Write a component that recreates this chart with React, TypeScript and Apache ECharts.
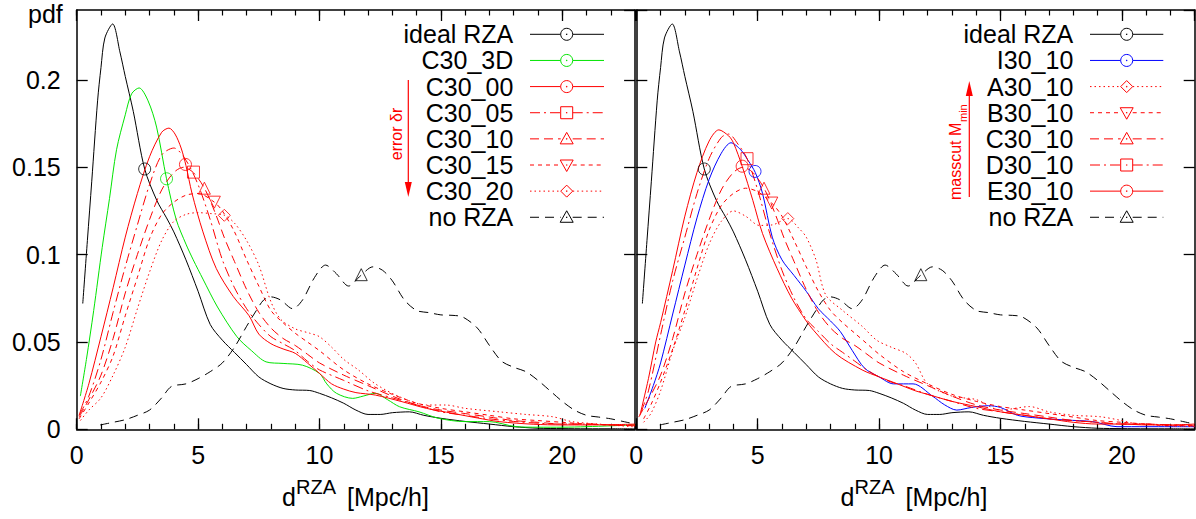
import React, { useEffect, useRef } from "react";
import * as echarts from "echarts";

type P = [number, number];

// ---------- data (x = d^RZA [Mpc/h], y = pdf) ----------
const idealRZA: P[] = [[0.25,0.072],[0.44,0.108],[0.62,0.142],[0.86,0.188],[1.0,0.207],[1.16,0.224],[1.48,0.232],[1.78,0.216],[2.0,0.202],[2.33,0.182],[2.8,0.149],[3.3,0.131],[3.7,0.121],[4.0,0.113],[4.5,0.097],[5.0,0.079],[5.5,0.060],[6.0,0.051],[6.5,0.044],[7.0,0.037],[7.5,0.030],[8.0,0.026],[8.5,0.0234],[9.0,0.0225],[9.6,0.0222],[10.0,0.0206],[10.5,0.018],[11.0,0.0149],[11.5,0.011],[12.0,0.0085],[12.5,0.0085],[13.0,0.0095],[13.7,0.010],[14.3,0.008],[15.0,0.0063],[16.0,0.0045],[17.0,0.003],[18.0,0.0015],[19.0,0.0006],[20.0,0.0004],[21.0,0.0003],[22.0,0.0003],[23.0,0.0002]];
const noRZA: P[] = [[0.97,0.0025],[1.5,0.004],[2.0,0.0055],[2.5,0.008],[3.0,0.011],[3.5,0.018],[3.9,0.0245],[4.5,0.026],[5.0,0.029],[5.5,0.033],[6.0,0.038],[6.5,0.047],[7.0,0.059],[7.4,0.068],[7.7,0.074],[8.0,0.0758],[8.4,0.074],[8.9,0.069],[9.3,0.074],[9.8,0.087],[10.25,0.094],[10.7,0.089],[11.2,0.082],[11.7,0.088],[12.2,0.093],[12.6,0.091],[13.0,0.085],[13.5,0.074],[14.0,0.068],[14.5,0.0668],[15.0,0.0655],[15.5,0.0652],[15.9,0.0643],[16.5,0.058],[17.0,0.048],[17.5,0.039],[18.0,0.0355],[18.5,0.033],[19.0,0.028],[19.5,0.022],[20.0,0.016],[20.5,0.011],[21.0,0.008],[21.5,0.007],[22.0,0.006],[22.5,0.0045],[23.0,0.003]];
const c30_3D: P[] = [[0.15,0.019],[0.4,0.040],[0.7,0.068],[1.05,0.104],[1.35,0.132],[1.64,0.160],[2.0,0.180],[2.26,0.192],[2.57,0.1954],[2.94,0.188],[3.29,0.173],[3.7,0.1434],[4.1,0.120],[4.5,0.106],[4.8,0.097],[5.2,0.086],[5.8,0.070],[6.6,0.053],[7.2,0.045],[7.8,0.0386],[8.5,0.0377],[9.3,0.0367],[10.0,0.032],[10.3,0.026],[10.7,0.0206],[11.37,0.0177],[11.8,0.019],[12.3,0.0206],[12.8,0.017],[13.3,0.0129],[14.1,0.010],[14.9,0.0063],[16.0,0.0044],[17.0,0.0044],[18.1,0.0015],[19.0,0.0012],[20.0,0.0012],[21.0,0.0015],[22.0,0.002],[23.0,0.0025]];
const c30_00: P[] = [[0.1,0.008],[0.5,0.026],[1.0,0.053],[1.5,0.081],[2.0,0.110],[2.5,0.135],[3.0,0.156],[3.5,0.170],[3.8,0.1724],[4.05,0.169],[4.3,0.161],[4.5,0.151],[4.75,0.135],[5.2,0.113],[5.75,0.092],[6.45,0.076],[7.1,0.065],[7.5,0.0545],[8.0,0.049],[8.5,0.046],[9.0,0.0435],[9.5,0.038],[10.0,0.032],[10.5,0.026],[11.0,0.023],[11.5,0.021],[12.3,0.0196],[13.4,0.0158],[14.4,0.012],[15.5,0.0091],[16.5,0.0065],[17.4,0.0044],[18.8,0.0029],[20.0,0.0025],[21.0,0.0025],[22.0,0.0026],[23.0,0.003]];
const c30_05: P[] = [[0.1,0.008],[0.5,0.019],[1.0,0.040],[1.5,0.067],[2.0,0.093],[2.5,0.117],[3.0,0.140],[3.5,0.157],[4.0,0.161],[4.5,0.154],[5.0,0.140],[5.5,0.120],[6.0,0.097],[6.5,0.081],[7.0,0.069],[7.5,0.060],[8.0,0.053],[8.5,0.049],[9.0,0.045],[9.5,0.039],[10.0,0.034],[11.0,0.028],[12.0,0.022],[13.0,0.018],[14.0,0.014],[15.0,0.010],[16.0,0.008],[17.0,0.006],[18.0,0.0045],[19.0,0.0035],[20.0,0.003],[21.0,0.003],[22.0,0.0025],[23.0,0.0025]];
const c30_10: P[] = [[0.1,0.007],[0.5,0.017],[1.0,0.031],[1.5,0.052],[2.0,0.078],[2.5,0.100],[3.0,0.120],[3.5,0.137],[4.0,0.147],[4.4,0.150],[4.8,0.147],[5.26,0.138],[5.7,0.124],[6.1,0.109],[6.5,0.096],[7.0,0.080],[7.5,0.067],[8.0,0.058],[8.5,0.052],[9.0,0.048],[9.5,0.043],[10.0,0.038],[11.0,0.031],[12.0,0.025],[13.0,0.019],[14.0,0.014],[15.0,0.011],[16.0,0.009],[17.0,0.007],[18.0,0.005],[19.0,0.004],[20.0,0.003],[21.0,0.003],[22.0,0.0025],[23.0,0.002]];
const c30_15: P[] = [[0.1,0.006],[0.5,0.015],[1.0,0.027],[1.5,0.042],[2.0,0.065],[2.5,0.087],[3.0,0.109],[3.5,0.123],[4.0,0.130],[4.5,0.134],[5.0,0.135],[5.67,0.130],[6.0,0.125],[6.5,0.113],[7.0,0.097],[7.5,0.082],[8.0,0.068],[8.5,0.061],[9.0,0.055],[9.5,0.050],[10.0,0.045],[11.0,0.034],[12.0,0.026],[13.0,0.020],[14.0,0.015],[15.0,0.012],[16.0,0.010],[17.0,0.008],[18.0,0.006],[19.0,0.005],[20.0,0.004],[21.0,0.003],[22.0,0.0025],[23.0,0.002]];
const c30_20: P[] = [[0.15,0.005],[0.5,0.011],[1.0,0.018],[1.5,0.031],[2.0,0.047],[2.5,0.069],[3.0,0.090],[3.5,0.108],[4.0,0.119],[4.5,0.123],[5.0,0.124],[5.5,0.1235],[6.08,0.1225],[6.5,0.118],[7.0,0.108],[7.5,0.094],[8.0,0.073],[8.4,0.063],[9.0,0.0575],[9.6,0.055],[10.0,0.053],[10.5,0.047],[11.0,0.040],[11.6,0.034],[12.3,0.026],[13.3,0.0186],[14.4,0.0139],[15.2,0.0139],[16.0,0.012],[17.4,0.010],[18.5,0.0085],[19.6,0.0072],[20.4,0.0044],[21.5,0.003],[22.9,0.0015]];
const i30_10: P[] = [[0.35,0.012],[0.7,0.025],[1.0,0.038],[1.5,0.066],[2.0,0.094],[2.5,0.121],[3.0,0.143],[3.5,0.158],[3.9,0.164],[4.3,0.160],[4.6,0.154],[4.9,0.147],[5.2,0.135],[5.6,0.110],[6.0,0.097],[6.5,0.088],[7.0,0.079],[7.5,0.069],[8.0,0.062],[8.4,0.056],[8.9,0.045],[9.4,0.035],[10.0,0.030],[10.6,0.026],[11.4,0.026],[12.2,0.019],[12.7,0.014],[13.2,0.011],[13.8,0.0125],[14.5,0.0135],[15.0,0.0125],[15.7,0.008],[16.5,0.0065],[17.7,0.0053],[18.8,0.0044],[19.8,0.0015],[21.0,0.0015],[22.0,0.0015],[23.0,0.0015]];
const a30_10: P[] = [[0.3,0.004],[0.6,0.009],[1.0,0.022],[1.5,0.045],[2.0,0.064],[2.5,0.086],[3.0,0.106],[3.5,0.119],[4.0,0.125],[4.5,0.122],[5.07,0.1167],[5.6,0.117],[6.24,0.1206],[6.7,0.115],[7.0,0.110],[7.4,0.097],[7.8,0.077],[8.5,0.068],[9.3,0.059],[9.9,0.051],[10.5,0.047],[11.1,0.0435],[11.5,0.038],[12.0,0.026],[13.0,0.019],[14.0,0.017],[15.0,0.011],[16.2,0.013],[17.0,0.010],[18.0,0.008],[19.1,0.0072],[20.0,0.005],[20.5,0.0034],[21.5,0.0025],[23.0,0.0015]];
const b30_10: P[] = [[0.3,0.006],[0.6,0.014],[1.0,0.027],[1.5,0.046],[2.0,0.068],[2.5,0.092],[3.0,0.114],[3.5,0.128],[4.0,0.135],[4.5,0.138],[5.0,0.136],[5.58,0.1295],[6.0,0.122],[6.5,0.108],[7.0,0.093],[7.5,0.079],[8.0,0.068],[8.5,0.061],[9.0,0.055],[9.5,0.049],[10.0,0.043],[11.0,0.033],[12.0,0.026],[13.0,0.020],[14.0,0.016],[15.0,0.013],[16.0,0.011],[17.0,0.009],[18.0,0.007],[19.0,0.005],[20.0,0.004],[21.0,0.003],[22.0,0.002],[23.0,0.002]];
const d30_10: P[] = [[0.2,0.010],[0.5,0.022],[1.0,0.054],[1.5,0.085],[2.0,0.110],[2.5,0.135],[3.0,0.155],[3.5,0.167],[3.8,0.169],[4.2,0.163],[4.56,0.155],[5.0,0.137],[5.5,0.112],[6.0,0.091],[6.5,0.075],[7.0,0.063],[7.5,0.056],[8.0,0.049],[8.5,0.044],[9.0,0.039],[9.5,0.034],[10.0,0.030],[10.5,0.027],[11.0,0.025],[12.0,0.020],[13.0,0.016],[14.0,0.012],[15.0,0.010],[16.0,0.008],[17.0,0.006],[18.0,0.005],[19.0,0.004],[20.0,0.003],[21.0,0.003],[22.0,0.0025],[23.0,0.0025]];
const e30_10: P[] = [[0.15,0.008],[0.5,0.029],[0.8,0.050],[1.0,0.061],[1.5,0.091],[2.0,0.122],[2.5,0.147],[3.0,0.165],[3.4,0.1714],[3.8,0.168],[4.0,0.164],[4.36,0.1506],[4.8,0.131],[5.2,0.112],[5.8,0.092],[6.4,0.075],[7.0,0.062],[7.3,0.0567],[8.2,0.0434],[9.3,0.034],[10.0,0.030],[10.7,0.0263],[11.5,0.022],[12.0,0.020],[13.0,0.016],[14.0,0.013],[15.0,0.010],[16.0,0.008],[17.0,0.006],[18.0,0.004],[19.0,0.003],[20.0,0.003],[21.0,0.0025],[22.0,0.0025],[23.0,0.003]];

// one point symbol per curve
const markPoints: Record<string, P> = {
  "ideal RZA": [2.8, 0.149],
  "no RZA": [11.72, 0.0885],
  "C30_3D": [3.7, 0.1434],
  "C30_00": [4.48, 0.1516],
  "C30_05": [4.81, 0.1472],
  "C30_10": [5.26, 0.138],
  "C30_15": [5.67, 0.130],
  "C30_20": [6.08, 0.1225],
  "I30_10": [4.89, 0.1476],
  "A30_10": [6.24, 0.1206],
  "B30_10": [5.58, 0.1295],
  "D30_10": [4.56, 0.1549],
  "E30_10": [4.36, 0.1506],
};

const leftNames = ["ideal RZA", "C30_3D", "C30_00", "C30_05", "C30_10", "C30_15", "C30_20", "no RZA"];
const rightNames = ["ideal RZA", "I30_10", "A30_10", "B30_10", "C30_10", "D30_10", "E30_10", "no RZA"];
const curveData: Record<string, P[]> = {
  "ideal RZA": idealRZA, "no RZA": noRZA, "C30_3D": c30_3D, "C30_00": c30_00, "C30_05": c30_05,
  "C30_10": c30_10, "C30_15": c30_15, "C30_20": c30_20, "I30_10": i30_10, "A30_10": a30_10,
  "B30_10": b30_10, "D30_10": d30_10, "E30_10": e30_10,
};

// ---------- styles ----------
const FONT = "'Liberation Sans', Arial, Helvetica, sans-serif";
const RED = "#ff0000";
const GREEN = "#00e400";
const BLUE = "#0000ff";
const BLACK = "#000000";
const DASHDOT = [10, 4, 2, 4];
const DASHED = [9, 5];
const SHORT = [4, 4];
const DOTTED = [1.5, 3];
const LONG = [9, 6];
type Sym = "circle" | "rect" | "triangle" | "invTriangle" | "diamond";
const STYLE: Record<string, { color: string; dash: number[] | null; symbol: Sym }> = {
  "ideal RZA": { color: BLACK, dash: null, symbol: "circle" },
  "no RZA": { color: BLACK, dash: LONG, symbol: "triangle" },
  "C30_3D": { color: GREEN, dash: null, symbol: "circle" },
  "C30_00": { color: RED, dash: null, symbol: "circle" },
  "C30_05": { color: RED, dash: DASHDOT, symbol: "rect" },
  "C30_10": { color: RED, dash: DASHED, symbol: "triangle" },
  "C30_15": { color: RED, dash: SHORT, symbol: "invTriangle" },
  "C30_20": { color: RED, dash: DOTTED, symbol: "diamond" },
  "I30_10": { color: BLUE, dash: null, symbol: "circle" },
  "A30_10": { color: RED, dash: DOTTED, symbol: "diamond" },
  "B30_10": { color: RED, dash: SHORT, symbol: "invTriangle" },
  "D30_10": { color: RED, dash: DASHDOT, symbol: "rect" },
  "E30_10": { color: RED, dash: null, symbol: "circle" },
};

const GRID_TOP = 10;
const GRID_H = 419.3;
const GRID_W = 558.4;
const GRID_LEFT = [76.7, 636.3];
const AXIS_COLOR = "#000";

function buildAxes() {
  const xAxis: any[] = [];
  const yAxis: any[] = [];
  [0, 1].forEach((gi) => {
    const base = { gridIndex: gi, type: "value", min: 0, max: 23, splitLine: { show: false } };
    const lineOn = { show: true, onZero: false, lineStyle: { color: AXIS_COLOR, width: 1.5 } };
    const lineOff = { show: false, onZero: false };
    const major = { show: true, inside: true, length: 11, lineStyle: { color: AXIS_COLOR, width: 1.3 } };
    const minor = { show: true, inside: true, length: 5.5, lineStyle: { color: AXIS_COLOR, width: 1.2 } };
    xAxis.push({ ...base, position: "bottom", interval: 5, axisLine: lineOn, axisTick: major,
      axisLabel: { show: true, fontSize: 25, color: "#000", fontFamily: FONT, margin: 13, showMaxLabel: false } });
    xAxis.push({ ...base, position: "bottom", interval: 1, axisLine: lineOff, axisTick: minor, axisLabel: { show: false } });
    xAxis.push({ ...base, position: "top", interval: 5, axisLine: lineOn, axisTick: major, axisLabel: { show: false } });
    xAxis.push({ ...base, position: "top", interval: 1, axisLine: lineOff, axisTick: minor, axisLabel: { show: false } });
    const ybase = { gridIndex: gi, type: "value", min: 0, max: 0.24, interval: 0.05, splitLine: { show: false } };
    yAxis.push({ ...ybase, position: "left", axisLine: lineOn, axisTick: major,
      axisLabel: { show: gi === 0, fontSize: 25, color: "#000", fontFamily: FONT, margin: 16, showMaxLabel: false,
        formatter: (v: number) => String(+v.toFixed(2)) } });
    yAxis.push({ ...ybase, position: "right", axisLine: lineOn, axisTick: major, axisLabel: { show: false } });
  });
  return { xAxis, yAxis };
}

function buildSeries(names: string[], panel: number) {
  const xi = panel * 4;
  const yi = panel * 2;
  const out: any[] = [];
  names.forEach((n) => {
    const st = STYLE[n];
    out.push({
      type: "line", name: `${n}-${panel}`, xAxisIndex: xi, yAxisIndex: yi, data: curveData[n],
      showSymbol: false, symbol: "none", smooth: 0.3, silent: true, z: 3,
      lineStyle: { color: st.color, width: 1, type: st.dash ? st.dash : "solid" },
    });
    out.push({
      type: "scatter", name: `${n}-mark-${panel}`, xAxisIndex: xi, yAxisIndex: yi, data: [markPoints[n]],
      symbol: st.symbol === "invTriangle" ? "triangle" : st.symbol,
      symbolRotate: st.symbol === "invTriangle" ? 180 : 0,
      symbolSize: 12, silent: true, z: 4,
      itemStyle: { color: "rgba(0,0,0,0)", borderColor: st.color, borderWidth: 1 },
    });
  });
  return out;
}

function markerShape(sym: Sym, cx: number, cy: number, color: string): any {
  const style = { fill: "#fff", stroke: color, lineWidth: 1 };
  if (sym === "circle") return { type: "circle", shape: { cx, cy, r: 6 }, style };
  if (sym === "rect") return { type: "rect", shape: { x: cx - 6, y: cy - 6, width: 12, height: 12 }, style };
  if (sym === "triangle") return { type: "polygon", shape: { points: [[cx, cy - 6.5], [cx - 6.5, cy + 5], [cx + 6.5, cy + 5]] }, style };
  if (sym === "invTriangle") return { type: "polygon", shape: { points: [[cx - 6.5, cy - 5], [cx + 6.5, cy - 5], [cx, cy + 6.5]] }, style };
  return { type: "polygon", shape: { points: [[cx, cy - 6], [cx + 6, cy], [cx, cy + 6], [cx - 6, cy]] }, style };
}

function legendGraphics(names: string[], textRight: number, x1: number, x2: number, mx: number) {
  const els: any[] = [];
  names.forEach((n, i) => {
    const y = 34.3 + i * 26.14;
    const st = STYLE[n];
    els.push({ type: "text", style: { text: n, x: textRight, y, align: "right", verticalAlign: "middle", fontSize: 25, fontFamily: FONT, fill: "#000" } });
    els.push({ type: "line", shape: { x1, y1: y, x2: mx - 6, y2: y }, style: { stroke: st.color, lineWidth: 1, lineDash: st.dash } });
    els.push({ type: "line", shape: { x1: mx + 6, y1: y, x2, y2: y }, style: { stroke: st.color, lineWidth: 1, lineDash: st.dash } });
    els.push(markerShape(st.symbol, mx, y, st.color));
    els.push({ type: "circle", shape: { cx: mx, cy: y, r: 0.7 }, style: { fill: st.color } });
  });
  return els;
}

function xTitle(dx: number) {
  const t = (text: string, x: number, y: number, size: number) => ({
    type: "text", style: { text, x: x + dx, y, align: "left", verticalAlign: "middle", fontSize: size, fontFamily: FONT, fill: "#000" },
  });
  return [t("d", 282, 497.3, 25), t("RZA", 296, 486.5, 20), t("[Mpc/h]", 347, 497.3, 25)];
}

export default function App() {
  const ref = useRef<HTMLDivElement>(null);
  useEffect(() => {
    if (!ref.current) return;
    const chart = echarts.init(ref.current, undefined, { renderer: "svg" });
    const { xAxis, yAxis } = buildAxes();
    const graphic: any[] = [
      { type: "text", style: { text: "pdf", x: 28, y: 1, align: "left", verticalAlign: "top", fontSize: 25, fontFamily: FONT, fill: "#000" } },
      ...xTitle(0),
      ...xTitle(558.5),
      ...legendGraphics(leftNames, 513.3, 530, 604, 566.7),
      ...legendGraphics(rightNames, 1073.3, 1090, 1163.3, 1126.7),
      // error arrow (left)
      { type: "line", shape: { x1: 408.3, y1: 80, x2: 408.3, y2: 186 }, style: { stroke: RED, lineWidth: 1.2 } },
      { type: "polygon", shape: { points: [[404.8, 182], [411.8, 182], [408.3, 197]] }, style: { fill: RED } },
      { type: "text", x: 396.7, y: 134, rotation: Math.PI / 2,
        style: { text: "error δr", x: 0, y: 0, align: "center", verticalAlign: "middle", fontSize: 16, fontFamily: FONT, fill: RED } },
      // masscut arrow (right)
      { type: "line", shape: { x1: 969.3, y1: 197, x2: 969.3, y2: 92 }, style: { stroke: RED, lineWidth: 1.2 } },
      { type: "polygon", shape: { points: [[965.8, 96], [972.8, 96], [969.3, 81]] }, style: { fill: RED } },
      { type: "group", x: 955.4, y: 200, rotation: Math.PI / 2, children: [
        { type: "text", style: { text: "masscut M", x: 0, y: 0, align: "left", verticalAlign: "middle", fontSize: 16, fontFamily: FONT, fill: RED } },
        { type: "text", style: { text: "min", x: 78, y: 7.5, align: "left", verticalAlign: "middle", fontSize: 11, fontFamily: FONT, fill: RED } },
      ] },
    ];
    chart.setOption({
      animation: false,
      backgroundColor: "#ffffff",
      grid: GRID_LEFT.map((l) => ({ left: l, top: GRID_TOP, width: GRID_W, height: GRID_H, containLabel: false, outerBoundsMode: "none" })),
      xAxis,
      yAxis,
      series: [...buildSeries(leftNames, 0), ...buildSeries(rightNames, 1)],
      graphic,
    });
    return () => chart.dispose();
  }, []);
  return <div ref={ref} style={{ position: "fixed", left: 0, top: 0, width: 1196, height: 519, background: "#fff" }} />;
}
